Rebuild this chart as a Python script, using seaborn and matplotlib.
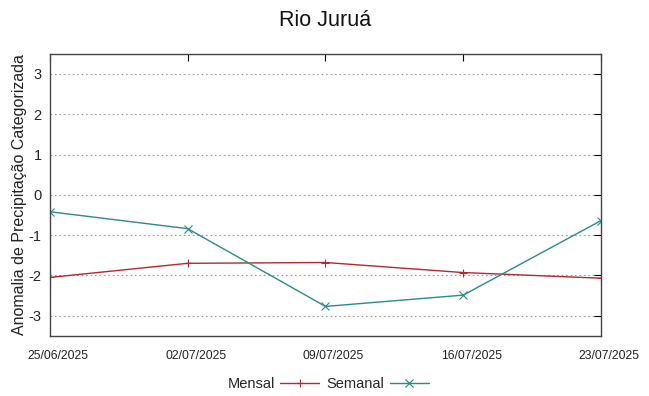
import numpy as np
import pandas as pd
import matplotlib
matplotlib.use("Agg")
import matplotlib.pyplot as plt
import matplotlib.transforms as mtransforms
import seaborn as sns

DATES = ["25/06/2025", "02/07/2025", "09/07/2025", "16/07/2025", "23/07/2025"]
MENSAL = [-2.05, -1.70, -1.68, -1.93, -2.07]
SEMANAL = [-0.42, -0.84, -2.77, -2.49, -0.64]
YTICKS = [-3, -2, -1, 0, 1, 2, 3]

sns.set_style("white")
plt.rcParams["font.family"] = ["Liberation Sans", "DejaVu Sans"]

df = pd.DataFrame({
    "data": pd.to_datetime(DATES, format="%d/%m/%Y").repeat(2),
    "valor": np.ravel(np.column_stack([MENSAL, SEMANAL])),
    "serie": ["Mensal", "Semanal"] * len(DATES),
})

fig = plt.figure(figsize=(6.49, 3.96), dpi=100)
ax = fig.add_axes([0.077, 0.152, 0.849, 0.712])

sns.lineplot(
    data=df, x="data", y="valor", hue="serie", style="serie",
    palette={"Mensal": "#b02a2e", "Semanal": "#2b8a8a"},
    markers={"Mensal": "+", "Semanal": "x"}, dashes=False,
    markersize=5.5, markeredgewidth=0.8, linewidth=1.0, ax=ax,
)
# seaborn whitens marker edges; +/x need the line colour
for ln in ax.lines:
    ln.set_markeredgecolor(ln.get_color())

xd = pd.to_datetime(DATES, format="%d/%m/%Y")
ax.set_xlim(xd[0], xd[-1])
ax.set_ylim(-3.5, 3.5)
ax.set_xticks(xd)
ax.set_xticklabels(DATES, fontsize=8.8, color="#222222")
ax.set_yticks(YTICKS)
ax.set_yticklabels([str(v) for v in YTICKS], fontsize=10.5, color="#222222")
ax.tick_params(axis="both", direction="in", length=5, color="black",
               top=True, right=True, width=0.8)
ax.tick_params(axis="x", pad=10)
ax.tick_params(axis="y", pad=6)

# labels sit a little right of their ticks in the original
shift = mtransforms.ScaledTranslation(8 / 100, 0, fig.dpi_scale_trans)
for lbl in ax.get_xticklabels():
    lbl.set_transform(lbl.get_transform() + shift)

ax.yaxis.grid(True, linestyle=(0, (1.5, 2.5)), color="#999999", linewidth=0.8)
ax.xaxis.grid(False)
for s in ax.spines.values():
    s.set_color("#444444")
    s.set_linewidth(1.0)

ax.set_xlabel("")
ax.set_ylabel("Anomalia de Precipitação Categorizada", fontsize=11.5,
              color="#222222", labelpad=1)
ax.set_title("Rio Juruá", fontsize=15.5, pad=20, color="#111111")

handles, labels = ax.get_legend_handles_labels()
for h in handles:
    h.set_markeredgecolor(h.get_color())
ax.legend(handles, labels, loc="upper center", bbox_to_anchor=(0.505, -0.1),
          ncol=2, frameon=False, markerfirst=False, fontsize=10.5,
          handlelength=2.7, columnspacing=0.5, handletextpad=0.35)

fig.savefig("out.png", dpi=100)
